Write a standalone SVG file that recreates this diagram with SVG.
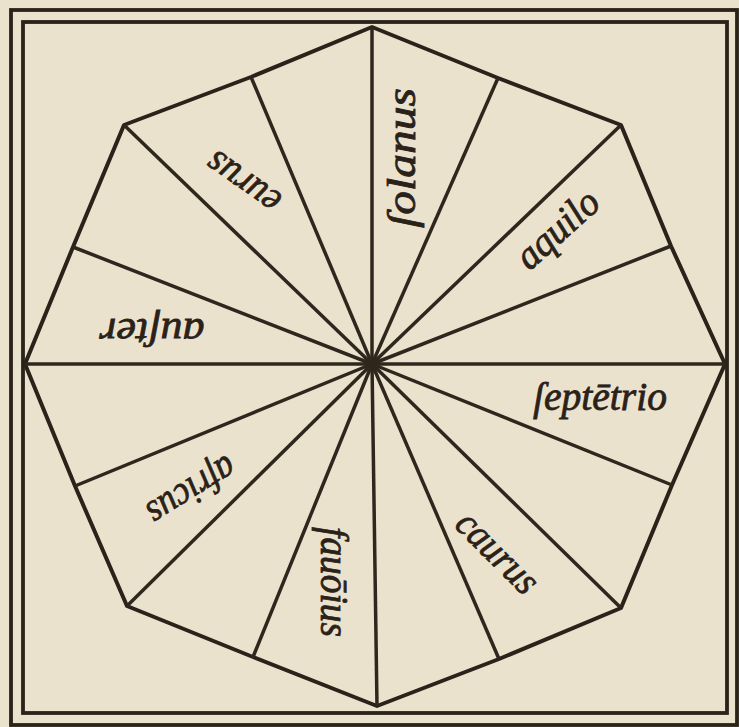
<svg xmlns="http://www.w3.org/2000/svg" width="739" height="727" viewBox="0 0 739 727">
<style>
.frame{fill:none;stroke:#2b2219;stroke-width:3.8}
.oct{fill:none;stroke:#2b2219;stroke-width:4;stroke-linejoin:round}
.spk line{stroke:#2f271d;stroke-width:3.5;stroke-linecap:butt}
.lbl{font-family:"Liberation Serif",serif;font-style:italic;font-size:40px;fill:#2a2118;stroke:#2a2118;stroke-width:0.8;text-anchor:middle}
</style>
<rect x="0" y="0" width="739" height="727" fill="#ebe2ce"/>
<g id="frame">
<rect class="frame" x="11" y="10" width="726" height="715"/>
<rect class="frame" x="23" y="22" width="704" height="691"/>
</g>
<g id="octagon">
<polygon class="oct" points="372,27 498,78 621,125 671,246 725,364 672,485 621,608 499,659 377,706 253,657 127,606 75,486 25,364 73,247 124,125 251,77"/>
</g>
<g id="connectors" class="spk">
<line x1="372" y1="364" x2="372" y2="27"/>
<line x1="372" y1="364" x2="498" y2="78"/>
<line x1="372" y1="364" x2="621" y2="125"/>
<line x1="372" y1="364" x2="671" y2="246"/>
<line x1="372" y1="364" x2="725" y2="364"/>
<line x1="372" y1="364" x2="672" y2="485"/>
<line x1="372" y1="364" x2="621" y2="608"/>
<line x1="372" y1="364" x2="499" y2="659"/>
<line x1="372" y1="364" x2="377" y2="706"/>
<line x1="372" y1="364" x2="253" y2="657"/>
<line x1="372" y1="364" x2="127" y2="606"/>
<line x1="372" y1="364" x2="75" y2="486"/>
<line x1="372" y1="364" x2="25" y2="364"/>
<line x1="372" y1="364" x2="73" y2="247"/>
<line x1="372" y1="364" x2="124" y2="125"/>
<line x1="372" y1="364" x2="251" y2="77"/>
</g>
<g id="solanus" transform="translate(406,158) rotate(-90)"><text class="lbl" x="0" y="9" textLength="140" lengthAdjust="spacingAndGlyphs">ſolanus</text></g>
<g id="aquilo" transform="translate(560,232) rotate(-42)"><text class="lbl" x="0" y="9" textLength="98" lengthAdjust="spacingAndGlyphs">aquilo</text></g>
<g id="septetrio" transform="translate(600,401)"><text class="lbl" x="0" y="9" textLength="134" lengthAdjust="spacingAndGlyphs">ſeptētrio</text></g>
<g id="caurus" transform="translate(495,555) rotate(45)"><text class="lbl" x="0" y="9" textLength="100" lengthAdjust="spacingAndGlyphs">caurus</text></g>
<g id="fauoius" transform="translate(330,582) rotate(90)"><text class="lbl" x="0" y="9" textLength="110" lengthAdjust="spacingAndGlyphs">fauōius</text></g>
<g id="africus" transform="translate(190,488) rotate(148)"><text class="lbl" x="0" y="9" textLength="98" lengthAdjust="spacingAndGlyphs">africus</text></g>
<g id="auster" transform="translate(152,328) rotate(180)"><text class="lbl" x="0" y="9" textLength="105" lengthAdjust="spacingAndGlyphs">auſter</text></g>
<g id="eurus" transform="translate(245,180) rotate(-145)"><text class="lbl" x="0" y="9" textLength="82" lengthAdjust="spacingAndGlyphs">eurus</text></g>
</svg>
